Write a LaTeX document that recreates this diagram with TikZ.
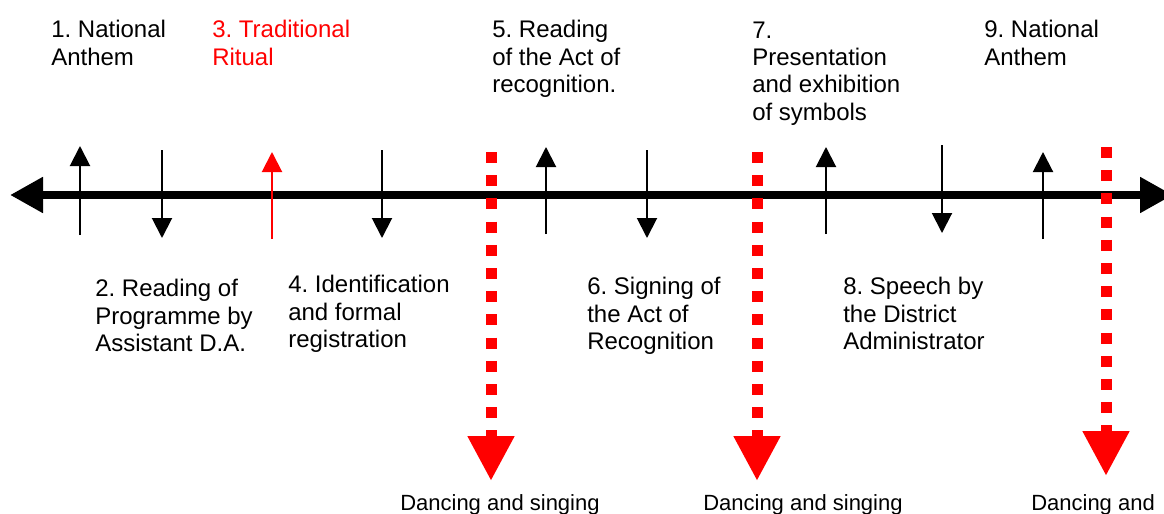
\documentclass[tikz,border=0pt]{standalone}
\usepackage{fontspec}
\setmainfont{Liberation Sans}
\usetikzlibrary{arrows.meta}
\definecolor{pured}{RGB}{255,0,0}
\frenchspacing
\begin{document}
\begin{tikzpicture}[x=0.75pt,y=-0.75pt,
  lbl/.style={anchor=base west, inner sep=0pt, align=left, font=\fontsize{18}{20.5}\selectfont\frenchspacing},
  dlbl/.style={anchor=base west, inner sep=0pt, font=\fontsize{16.5}{19}\selectfont},
  axisline/.style={line width=6pt, {Triangle[length=24.75pt,width=25.5pt]}-{Triangle[length=24.75pt,width=25.5pt]}},
  evarrow/.style={line width=1.5pt, -{Triangle[length=15pt,width=15pt]}},
  dancearrow/.style={pured, line width=8.25pt, dash pattern=on 8.25pt off 9.15pt, -{Triangle[length=33.75pt,width=33pt]}}
]
\useasboundingbox (0,0) rectangle (1164,514);

% main time line
\coordinate (axL) at (10,195);
\coordinate (axR) at (1173,195);
\draw[axisline] (axR) -- (axL);

% event arrows
\coordinate (u1s) at (80,235);  \coordinate (u1e) at (80,146);
\coordinate (d2s) at (162,150); \coordinate (d2e) at (162,238);
\coordinate (u3s) at (272,239); \coordinate (u3e) at (272,152);
\coordinate (d4s) at (382,150); \coordinate (d4e) at (382,238);
\coordinate (u5s) at (546,234); \coordinate (u5e) at (546,147);
\coordinate (d6s) at (647,150); \coordinate (d6e) at (647,238);
\coordinate (u7s) at (826,234); \coordinate (u7e) at (826,147);
\coordinate (d8s) at (942,145); \coordinate (d8e) at (942,233);
\coordinate (u9s) at (1043,239); \coordinate (u9e) at (1043,152);
\draw[evarrow] (u1s) -- (u1e);
\draw[evarrow] (d2s) -- (d2e);
\draw[evarrow, pured] (u3s) -- (u3e);
\draw[evarrow] (d4s) -- (d4e);
\draw[evarrow] (u5s) -- (u5e);
\draw[evarrow] (d6s) -- (d6e);
\draw[evarrow] (u7s) -- (u7e);
\draw[evarrow] (d8s) -- (d8e);
\draw[evarrow] (u9s) -- (u9e);

% dancing arrows
\coordinate (r1s) at (491,152); \coordinate (r1e) at (491,481);
\coordinate (r2s) at (757,152); \coordinate (r2e) at (757,481);
\coordinate (r3s) at (1106,147); \coordinate (r3e) at (1106,476);
\draw[dancearrow] (r1s) -- (r1e);
\draw[dancearrow] (r2s) -- (r2e);
\draw[dancearrow] (r3s) -- (r3e);

% top labels (anchored at the baseline of their last line)
\node[lbl] (t1) at (51,65.3) {1. National\\Anthem};
\node[lbl, text=pured] (t3) at (212,65.3) {3. Traditional\\Ritual};
\node[lbl] (t5) at (492,92.6) {5. Reading\\of the Act of\\recognition.};
\node[lbl] (t7) at (752,120) {7.\\Presentation\\and exhibition\\of symbols};
\node[lbl] (t9) at (984,65.3) {9. National\\Anthem};

% bottom labels
\node[lbl] (t2) at (95,351.6) {2. Reading of\\Programme by\\Assistant D.A.};
\node[lbl] (t4) at (288,347.6) {4. Identification\\and formal\\registration};
\node[lbl] (t6) at (587,349.6) {6. Signing of\\the Act of\\Recognition};
\node[lbl] (t8) at (843,349.6) {8. Speech by\\the District\\Administrator};

% dancing labels
\node[dlbl] (dl1) at (400,510) {Dancing and singing};
\node[dlbl] (dl2) at (703,510) {Dancing and singing};
\node[dlbl] (dl3) at (1031,510) {Dancing and};
\end{tikzpicture}
\end{document}
